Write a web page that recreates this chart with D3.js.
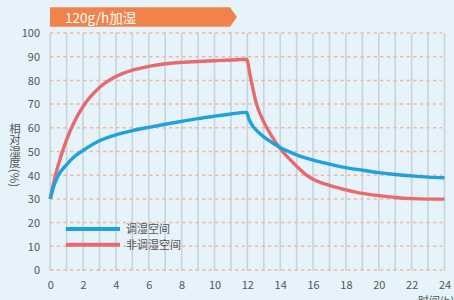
<!DOCTYPE html>
<html><head><meta charset="utf-8">
<script src="https://cdn.jsdelivr.net/npm/d3@7"></script>
<style>
html,body{margin:0;padding:0;background:#e6f3fb;}
svg{display:block;font-family:"Noto Sans CJK SC","Noto Sans",sans-serif;}
</style></head>
<body>
<svg id="c" width="454" height="300"></svg>
<script>
const title = "120g/h加湿";
const seriesNames = ["调湿空间", "非调湿空间"];
const seriesColors = ["#1ea2dc", "#e96a6c"];
const yTicks = [0,10,20,30,40,50,60,70,80,90,100];
const xTicks = [0,2,4,6,8,10,12,14,16,18,20,22,24];
const yTitle = "相对湿度(%)";
const xTitle = "时间(h)";

// 调湿空间 (blue)
const blueT = [0,0.25,0.5,1,1.5,2,3,4,5,6,7,8,9,10,11,11.95,12.1,12.3,12.6,13,13.5,14,15,16,17,18,19,20,21,22,23,24];
const blueV = [30,36,40,44.5,48,50.5,54.5,57,58.8,60.2,61.5,62.7,63.9,64.9,65.8,66.5,63.6,61,58.6,56.2,53.8,51.7,48.6,46.4,44.7,43.2,42.1,41.1,40.3,39.7,39.2,38.9];
// 非调湿空间 (red)
const redT = [0,0.25,0.5,1,1.5,2,3,4,5,6,7,8,9,10,11,11.95,12.2,12.56,13,13.5,14,14.5,15,15.6,16,17,18,19,20,21,22,23,24];
const redV = [30,38,44.5,55,63,69,77,81.6,84.3,85.9,87,87.6,88,88.3,88.6,88.9,81,70,62.5,56.3,51.3,47.3,43.8,40,38.3,35.7,33.8,32.3,31.4,30.6,30.1,29.9,29.9];

const svg = d3.select("#c");
const x = d3.scaleLinear().domain([0,24]).range([50.2,444.5]);
const y = d3.scaleLinear().domain([0,100]).range([270,33]);

// banner
svg.append("path")
  .attr("d", "M50,7.3 L230,7.3 L237,17 L230,26.7 L50,26.7 Z")
  .attr("fill", "#f0834b");
svg.append("text").attr("x", 65).attr("y", 22.5)
  .attr("fill", "#fff").attr("font-size", 13.5).text(title);

// vertical grid (every hour)
svg.append("g").selectAll("line").data(d3.range(0,25))
  .join("line")
  .attr("x1", d=>x(d)).attr("x2", d=>x(d))
  .attr("y1", y(100)).attr("y2", y(0)+1)
  .attr("stroke", "#c8d3dc").attr("stroke-width", 1.6);

// horizontal dashed grid
svg.append("g").selectAll("line").data(yTicks)
  .join("line")
  .attr("x1", x(0)).attr("x2", 442)
  .attr("y1", d=>y(d)).attr("y2", d=>y(d))
  .attr("stroke", "#f3b89c").attr("stroke-width", 1.5)
  .attr("stroke-dasharray", "3.3,3.3");

// y axis labels
const yAxis = d3.axisLeft(y).tickValues(yTicks).tickSize(0).tickPadding(0);
const gy = svg.append("g").attr("transform", "translate(40,0)").call(yAxis);
gy.select(".domain").remove();
gy.selectAll("text").attr("font-size", 11).attr("fill", "#555")
  .attr("font-family", "'Noto Sans CJK SC','Noto Sans',sans-serif").attr("dy", "0.35em");

// x axis labels
const xAxis = d3.axisBottom(x).tickValues(xTicks).tickSize(0).tickPadding(0);
const gx = svg.append("g").attr("transform", "translate(0,281)").call(xAxis);
gx.select(".domain").remove();
gx.selectAll("text").attr("font-size", 11).attr("fill", "#555")
  .attr("font-family", "'Noto Sans CJK SC','Noto Sans',sans-serif");

// y axis title (vertical writing mode)
svg.append("text").attr("x", 15).attr("y", 155)
  .attr("text-anchor", "middle")
  .style("writing-mode", "vertical-rl")
  .style("text-orientation", "mixed")
  .attr("font-size", 11.5).attr("fill", "#555").text(yTitle);

svg.append("text").attr("x", 418).attr("y", 305)
  .attr("font-size", 11).attr("fill", "#555").text(xTitle);

// lines
const line = d3.line().x(d=>x(d[0])).y(d=>y(d[1])).curve(d3.curveMonotoneX);
const data = [d3.zip(blueT, blueV), d3.zip(redT, redV)];
svg.append("g").selectAll("path").data([1,0])
  .join("path")
  .attr("d", i=>line(data[i]))
  .attr("fill", "none")
  .attr("stroke", i=>seriesColors[i])
  .attr("stroke-width", 3.4)
  .attr("stroke-linejoin", "round");

// legend
const lg = svg.append("g").selectAll("g").data(seriesNames).join("g")
  .attr("transform", (d,i)=>`translate(66,${229 + i*15.7})`);
lg.append("line").attr("x1",0).attr("x2",54).attr("y1",0).attr("y2",0)
  .attr("stroke", (d,i)=>seriesColors[i]).attr("stroke-width", 4);
lg.append("text").attr("x", 60).attr("y", 0).attr("dy","0.35em")
  .attr("font-size", 11).attr("fill", "#555").text(d=>d);
</script>
</body></html>
